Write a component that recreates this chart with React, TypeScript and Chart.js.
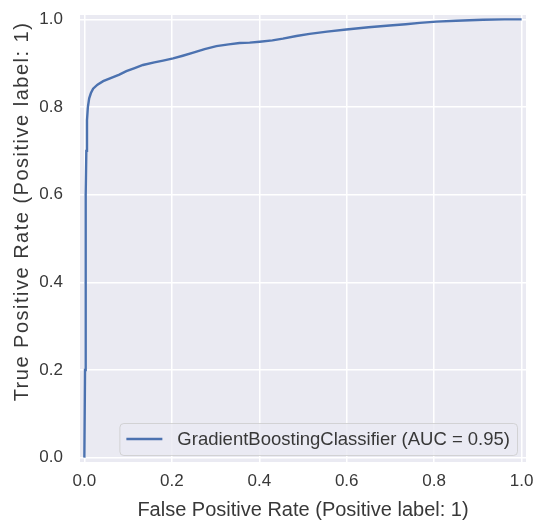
import React, { useEffect, useRef } from 'react';
import { Chart, registerables } from 'chart.js';

Chart.register(...registerables);

// ROC curve points
const fpr = [
  0, 0.0015, 0.0025, 0.0035, 0.0045, 0.006, 0.008, 0.011, 0.015, 0.02, 0.03, 0.043, 0.06, 0.08,
  0.096, 0.115, 0.134, 0.16, 0.18, 0.203, 0.225, 0.249, 0.275, 0.302, 0.33, 0.355, 0.378,
  0.401, 0.43, 0.454, 0.485, 0.515, 0.555, 0.599, 0.65, 0.698, 0.735, 0.767, 0.805, 0.85,
  0.912, 0.96, 1.0,
];
const tpr = [
  0, 0.2, 0.4, 0.6, 0.7, 0.77, 0.8, 0.82, 0.832, 0.842, 0.851, 0.859, 0.866, 0.874,
  0.882, 0.889, 0.896, 0.902, 0.906, 0.911, 0.917, 0.924, 0.932, 0.939, 0.943, 0.946, 0.947,
  0.949, 0.952, 0.956, 0.962, 0.967, 0.972, 0.977, 0.982, 0.986, 0.989, 0.992, 0.995, 0.997,
  0.999, 1.0, 1.0,
];
const xTicks = [0, 0.2, 0.4, 0.6, 0.8, 1.0];
const yTicks = [0, 0.2, 0.4, 0.6, 0.8, 1.0];
const seriesLabel = 'GradientBoostingClassifier (AUC = 0.95)';
const xTitle = 'False Positive Rate (Positive label: 1)';
const yTitle = 'True Positive Rate (Positive label: 1)';

const FONT = '"Liberation Sans", Arial, sans-serif';
const TEXT = '#383838';
const LINE = '#4C72B0';

export default function App() {
  const ref = useRef<HTMLCanvasElement | null>(null);

  useEffect(() => {
    const canvas = ref.current;
    if (!canvas) return;

    const bgPlugin = {
      id: 'bgPlugin',
      beforeDraw(chart: any) {
        const { ctx, chartArea: a, width, height } = chart;
        ctx.save();
        ctx.fillStyle = '#ffffff';
        ctx.fillRect(0, 0, width, height);
        ctx.fillStyle = '#EAEAF2';
        ctx.fillRect(a.left, a.top, a.right - a.left, a.bottom - a.top);
        ctx.restore();
      },
    };

    const decorPlugin = {
      id: 'decorPlugin',
      afterDraw(chart: any) {
        const { ctx, chartArea: a } = chart;
        // axis titles
        ctx.save();
        ctx.fillStyle = TEXT;
        ctx.font = `20px ${FONT}`;
        ctx.textAlign = 'center';
        ctx.textBaseline = 'alphabetic';
        ctx.fillText(xTitle, (a.left + a.right) / 2, a.bottom + 54);
        ctx.translate(a.left - 52, (a.top + a.bottom) / 2 - 27);
        ctx.rotate(-Math.PI / 2);
        (ctx as any).letterSpacing = '1.5px';
        ctx.fillText(yTitle, 0, 0);
        ctx.restore();

        // legend (lower right)
        const label = chart.data.datasets[0].label as string;
        ctx.save();
        ctx.font = `18.5px ${FONT}`;
        const tw = ctx.measureText(label).width;
        const padL = 7, lineLen = 36, gap = 15, padR = 7;
        const w = padL + lineLen + gap + tw + padR;
        const h = 32;
        const right = a.right - 9;
        const bottom = a.bottom - 7;
        const left = right - w;
        const top = bottom - h;
        ctx.beginPath();
        (ctx as any).roundRect(left + 0.5, top + 0.5, w, h, 4);
        ctx.fillStyle = 'rgba(234,234,242,0.8)';
        ctx.fill();
        ctx.strokeStyle = 'rgba(204,204,204,0.8)';
        ctx.lineWidth = 1;
        ctx.stroke();
        const cy = top + h / 2;
        ctx.beginPath();
        ctx.moveTo(left + padL, cy);
        ctx.lineTo(left + padL + lineLen, cy);
        ctx.strokeStyle = LINE;
        ctx.lineWidth = 2.3;
        ctx.stroke();
        ctx.fillStyle = TEXT;
        ctx.textAlign = 'left';
        ctx.textBaseline = 'middle';
        ctx.fillText(label, left + padL + lineLen + gap, cy + 1);
        ctx.restore();
      },
    };

    const chart = new Chart(canvas, {
      type: 'line',
      data: {
        datasets: [
          {
            label: seriesLabel,
            data: fpr.map((x, i) => ({ x, y: tpr[i] })),
            borderColor: LINE,
            backgroundColor: LINE,
            borderWidth: 2.4,
            pointRadius: 0,
            tension: 0,
            fill: false,
          },
        ],
      },
      options: {
        animation: false,
        responsive: false,
        devicePixelRatio: 1,
        layout: { padding: { left: 0, top: 15, right: 11, bottom: 0 } },
        plugins: {
          legend: { display: false },
          tooltip: { enabled: false },
          title: { display: false },
        },
        scales: {
          x: {
            type: 'linear',
            min: -0.01,
            max: 1.01,
            afterBuildTicks: (s: any) => {
              s.ticks = xTicks.map((v) => ({ value: v }));
            },
            afterFit: (s: any) => {
              s.height = 63;
              s.paddingLeft = 0;
              s.paddingRight = 0;
            },
            grid: { color: '#ffffff', lineWidth: 1.5, drawTicks: false },
            border: { display: false },
            ticks: {
              padding: 9,
              color: TEXT,
              font: { family: FONT, size: 17 },
              maxRotation: 0,
              autoSkip: false,
              callback: (v: any) => Number(v).toFixed(1),
            },
          },
          y: {
            type: 'linear',
            min: -0.01,
            max: 1.01,
            afterBuildTicks: (s: any) => {
              s.ticks = yTicks.map((v) => ({ value: v }));
            },
            afterFit: (s: any) => {
              s.width = 80;
              s.paddingTop = 0;
              s.paddingBottom = 0;
            },
            grid: { color: '#ffffff', lineWidth: 1.5, drawTicks: false },
            border: { display: false },
            ticks: {
              padding: 17,
              color: TEXT,
              font: { family: FONT, size: 17 },
              autoSkip: false,
              callback: (v: any) => Number(v).toFixed(1),
            },
          },
        },
      },
      plugins: [bgPlugin, decorPlugin],
    });

    return () => chart.destroy();
  }, []);

  return (
    <div style={{ position: 'absolute', left: 0, top: 0, width: 537, height: 525 }}>
      <canvas ref={ref} width={537} height={525} style={{ display: 'block', width: 537, height: 525 }} />
    </div>
  );
}
